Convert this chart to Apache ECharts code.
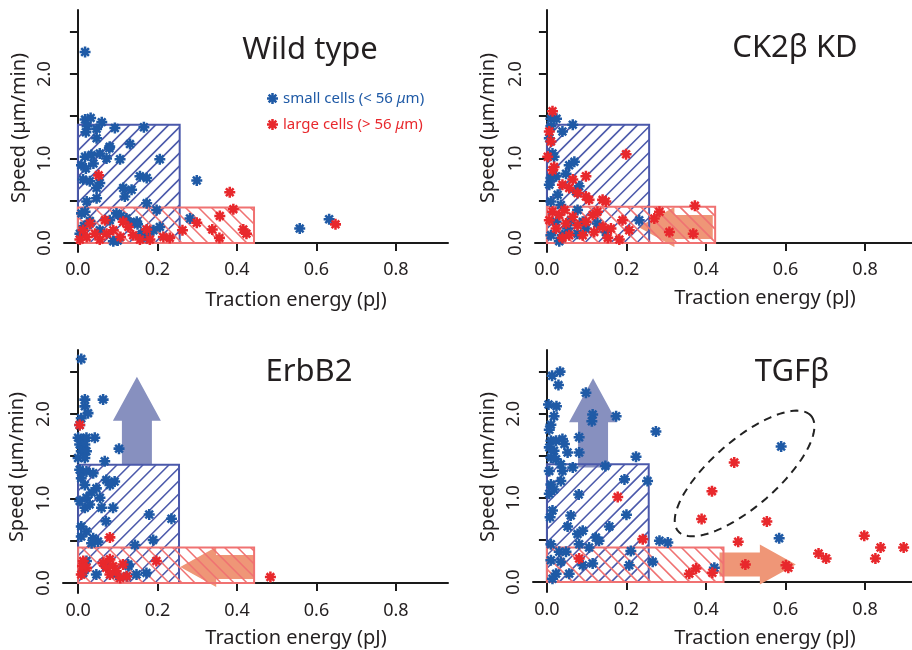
<!DOCTYPE html>
<html>
<head>
    <meta charset="utf-8" />
    <title>Speed vs traction energy</title>
    <style type="text/css">
        body, html {width: 100%; height: 100%; margin: 0; background: #fff;}
        #chart {width: 912px; height: 650px;}
    </style>
    <script src="https://cdn.jsdelivr.net/npm/echarts@6/dist/echarts.min.js"></script>
</head>
<body>
<div id="chart"></div>
<script type="text/javascript">
    var smallName = 'small cells (< 56 μm)';
    var largeName = 'large cells (> 56 μm)';
    var panelTitles = ['Wild type', 'CK2β KD', 'ErbB2', 'TGFβ'];
    var xTicks = [0, 0.2, 0.4, 0.6, 0.8];
    var yTicks = [0, 0.5, 1, 1.5, 2, 2.5];
    var yLabels = [0, 1, 2];

    // [traction energy (pJ), speed (um/min)]
    var wtSmall = [[0.018,2.26],[0.018,1.46],[0.032,1.48],[0.023,1.38],[0.020,1.31],[0.047,1.35],[0.060,1.43],[0.093,1.36],
        [0.166,1.37],[0.047,1.24],[0.131,1.17],[0.080,1.14],[0.018,1.02],[0.034,1.04],[0.055,1.06],[0.009,0.92],[0.039,0.94],
        [0.072,1.00],[0.106,0.99],[0.206,0.99],[0.013,0.75],[0.030,0.73],[0.055,0.71],[0.047,0.65],[0.156,0.79],[0.173,0.77],
        [0.114,0.65],[0.135,0.63],[0.118,0.55],[0.047,0.53],[0.022,0.49],[0.173,0.47],[0.299,0.74],[0.009,0.35],[0.018,0.37],
        [0.097,0.35],[0.198,0.39],[0.148,0.25],[0.206,0.19],[0.282,0.29],[0.005,0.11],[0.055,0.15],[0.089,0.02],[0.164,0.11],
        [0.190,0.15],[0.558,0.17],[0.632,0.28],[0.080,0.27],[0.122,0.29],[0.173,0.06],[0.108,0.32],[0.150,0.22],[0.130,0.24],
        [0.180,0.13],[0.160,0.10],[0.100,0.03],[0.015,0.20],[0.030,0.26],[0.020,0.88],[0.079,1.12]];
    var wtLarge = [[0.052,0.80],[0.013,0.15],[0.030,0.23],[0.043,0.11],[0.068,0.27],[0.072,0.11],[0.114,0.25],[0.107,0.07],
        [0.139,0.09],[0.173,0.16],[0.156,0.04],[0.181,0.04],[0.215,0.07],[0.231,0.06],[0.263,0.15],[0.299,0.24],[0.338,0.16],
        [0.357,0.32],[0.356,0.06],[0.391,0.40],[0.382,0.60],[0.416,0.16],[0.424,0.11],[0.648,0.22],[0.022,0.07],[0.089,0.15],
        [0.127,0.19],[0.005,0.04],[0.055,0.04]];

    var ckSmall = [[0.010,1.47],[0.024,1.47],[0.065,1.40],[0.039,1.32],[0.010,1.38],[0.006,1.24],[0.014,1.06],[0.018,1.02],
        [0.056,0.92],[0.069,0.96],[0.023,0.79],[0.010,0.77],[0.006,0.69],[0.048,0.82],[0.081,0.67],[0.073,0.61],[0.027,0.57],
        [0.010,0.49],[0.035,0.45],[0.077,0.39],[0.060,0.27],[0.090,0.25],[0.023,0.25],[0.052,0.17],[0.098,0.17],[0.232,0.27],
        [0.010,0.09],[0.039,0.09],[0.077,0.11],[0.031,0.02],[0.148,0.13],[0.127,0.23]];
    var ckLarge = [[0.014,1.56],[0.006,1.32],[0.010,1.20],[0.002,1.02],[0.018,0.90],[0.014,0.86],[0.199,1.05],[0.065,0.75],
        [0.098,0.79],[0.039,0.69],[0.056,0.65],[0.077,0.59],[0.098,0.55],[0.106,0.51],[0.140,0.51],[0.148,0.49],[0.014,0.37],
        [0.031,0.33],[0.044,0.39],[0.048,0.23],[0.023,0.17],[0.065,0.31],[0.077,0.21],[0.098,0.25],[0.115,0.33],[0.127,0.37],
        [0.119,0.13],[0.140,0.19],[0.161,0.17],[0.190,0.27],[0.207,0.15],[0.153,0.06],[0.182,0.04],[0.056,0.09],[0.039,0.06],
        [0.270,0.29],[0.283,0.37],[0.308,0.13],[0.006,0.27],[0.090,0.09],[0.372,0.44],[0.368,0.11]];

    var erbSmall = [[0.008,2.65],[0.017,2.17],[0.063,2.17],[0.017,2.09],[0.025,2.01],[0.008,1.95],[0.004,1.87],[0.000,1.72],
        [0.013,1.70],[0.021,1.72],[0.042,1.72],[0.004,1.64],[0.017,1.64],[0.008,1.56],[0.021,1.56],[0.000,1.48],[0.017,1.48],
        [0.103,1.59],[0.067,1.44],[0.004,1.34],[0.021,1.32],[0.038,1.30],[0.008,1.24],[0.017,1.16],[0.071,1.22],[0.092,1.20],
        [0.080,1.16],[0.046,1.12],[0.034,1.07],[0.055,1.01],[0.004,0.97],[0.021,1.01],[0.017,0.89],[0.029,0.93],[0.059,0.89],
        [0.088,0.89],[0.070,0.73],[0.179,0.81],[0.235,0.76],[0.008,0.67],[0.021,0.61],[0.008,0.55],[0.038,0.53],[0.050,0.49],
        [0.034,0.47],[0.143,0.45],[0.189,0.51],[0.126,0.22],[0.172,0.12],[0.147,0.10],[0.096,0.10],[0.021,0.26],[0.046,0.10],
        [0.013,0.12],[0.071,0.20],[0.127,0.20],[0.123,0.08]];
    var erbLarge = [[0.004,1.87],[0.080,0.54],[0.013,0.26],[0.021,0.18],[0.008,0.10],[0.063,0.24],[0.080,0.28],[0.071,0.18],
        [0.088,0.20],[0.096,0.14],[0.113,0.22],[0.080,0.10],[0.122,0.08],[0.197,0.26],[0.011,0.20],[0.484,0.07],[0.106,0.06]];

    var tgfSmall = [[0.013,2.45],[0.033,2.50],[0.029,2.34],[0.098,2.25],[0.004,2.11],[0.024,2.09],[0.018,1.97],[0.010,1.87],
        [0.006,1.81],[0.115,1.99],[0.113,1.91],[0.174,1.97],[0.081,1.72],[0.274,1.79],[0.010,1.68],[0.023,1.68],[0.006,1.60],
        [0.018,1.56],[0.039,1.70],[0.044,1.64],[0.052,1.54],[0.081,1.54],[0.010,1.48],[0.023,1.46],[0.035,1.40],[0.224,1.49],
        [0.147,1.38],[0.006,1.32],[0.039,1.32],[0.065,1.36],[0.010,1.16],[0.035,1.20],[0.195,1.22],[0.253,1.20],[0.006,1.05],
        [0.018,1.10],[0.080,1.04],[0.014,0.85],[0.008,0.77],[0.060,0.79],[0.200,0.80],[0.052,0.66],[0.077,0.57],[0.090,0.61],
        [0.157,0.66],[0.123,0.53],[0.131,0.49],[0.283,0.49],[0.304,0.47],[0.010,0.45],[0.031,0.36],[0.048,0.36],[0.081,0.45],
        [0.106,0.41],[0.010,0.26],[0.035,0.24],[0.090,0.20],[0.115,0.22],[0.207,0.20],[0.266,0.24],[0.023,0.10],[0.056,0.10],
        [0.014,0.04],[0.211,0.37],[0.421,0.17],[0.589,1.61],[0.584,0.52]];
    var tgfLarge = [[0.178,1.01],[0.241,0.51],[0.081,0.28],[0.358,0.10],[0.375,0.16],[0.416,0.11],[0.499,0.21],[0.481,0.48],
        [0.553,0.72],[0.471,1.42],[0.415,1.08],[0.389,0.75],[0.601,0.20],[0.607,0.17],[0.683,0.34],[0.702,0.28],[0.798,0.55],
        [0.826,0.28],[0.839,0.41],[0.897,0.41]];

    // hatched regions: [small x, small y, large x, large y]
    var regions = [[0.256, 1.40, 0.443, 0.42], [0.257, 1.40, 0.423, 0.43], [0.254, 1.40, 0.443, 0.42], [0.256, 1.40, 0.444, 0.41]];
    // arrows: [tail x, tail y, tip x, tip y]
    var arrows = [[], [[0.417, 0.19, 0.23, 0.19]],
        [[0.148, 1.40, 0.148, 2.44], [0.444, 0.19, 0.257, 0.19]],
        [[0.116, 1.36, 0.116, 2.42], [0.434, 0.21, 0.626, 0.21]]];
    var ellipseCenter = [0.497, 1.29];

    var smallColor = '#1f5aa6', largeColor = '#e8282c';
    var font = '"Noto Sans", "Liberation Sans", sans-serif';
    var star = 'path://M7.7 0H12.3V20H7.7Z M0 7.7H20V12.3H0Z M4.63 1.37L18.63 15.37L15.37 18.63L1.37 4.63Z M15.37 1.37L18.63 4.63L4.63 18.63L1.37 15.37Z';

    var grids = [
        {left: 64, top: 10, width: 384, height: 242},
        {left: 535, top: 10, width: 377, height: 242},
        {left: 63, top: 350, width: 385, height: 243},
        {left: 533, top: 350, width: 379, height: 242}
    ];
    var xRange = [[-0.035, 0.931], [-0.030, 0.918], [-0.038, 0.931], [-0.035, 0.918]];
    var yRange = [[-0.107, 2.757], [-0.107, 2.757], [-0.118, 2.757], [-0.118, 2.757]];
    var smallSets = [wtSmall, ckSmall, erbSmall, tgfSmall];
    var largeSets = [wtLarge, ckLarge, erbLarge, tgfLarge];

    function hatch(L, T, R, B, dir, color) {
        var els = [], step = 13, c, xa, xb;
        if (dir > 0) {
            for (c = L + T + step; c < R + B; c += step) {
                xa = Math.max(L, c - B); xb = Math.min(R, c - T);
                els.push({type: 'line', shape: {x1: xa, y1: c - xa, x2: xb, y2: c - xb}, style: {stroke: color, lineWidth: 1.6}});
            }
        } else {
            for (c = L - B + step; c < R - T; c += step) {
                xa = Math.max(L, c + T); xb = Math.min(R, c + B);
                els.push({type: 'line', shape: {x1: xa, y1: xa - c, x2: xb, y2: xb - c}, style: {stroke: color, lineWidth: 1.6}});
            }
        }
        els.push({type: 'rect', shape: {x: L, y: T, width: R - L, height: B - T}, style: {fill: 'none', stroke: color, lineWidth: 2}});
        return els;
    }

    function arrowShape(p0, p1) {
        var dx = p1[0] - p0[0], dy = p1[1] - p0[1];
        var len = Math.sqrt(dx * dx + dy * dy);
        var ux = dx / len, uy = dy / len, nx = -uy, ny = ux;
        var vertical = Math.abs(dy) > Math.abs(dx);
        var sw = vertical ? 15 : 12, hw = vertical ? 24 : 20, hl = vertical ? 44 : 36;
        var bx = p1[0] - ux * hl, by = p1[1] - uy * hl;
        return {
            type: 'polygon',
            shape: {points: [
                [p0[0] + nx * sw, p0[1] + ny * sw], [bx + nx * sw, by + ny * sw], [bx + nx * hw, by + ny * hw], p1,
                [bx - nx * hw, by - ny * hw], [bx - nx * sw, by - ny * sw], [p0[0] - nx * sw, p0[1] - ny * sw]
            ]},
            style: {fill: vertical ? '#8790bf' : '#ef9677'}
        };
    }

    var series = [], xAxes = [], yAxes = [], graphics = [];
    for (var i = 0; i < 4; i++) {
        xAxes.push({
            type: 'value', gridIndex: i, min: xRange[i][0], max: xRange[i][1],
            axisLine: {show: true, lineStyle: {color: '#1a1a1a', width: 2}},
            axisTick: {show: true, customValues: xTicks, length: 8, lineStyle: {color: '#1a1a1a', width: 2}},
            axisLabel: {customValues: xTicks, margin: 9, fontSize: 18, fontFamily: font, color: '#231f20',
                formatter: function (v) { return v.toFixed(1); }},
            splitLine: {show: false}
        });
        yAxes.push({
            type: 'value', gridIndex: i, min: yRange[i][0], max: yRange[i][1],
            axisLine: {show: true, lineStyle: {color: '#1a1a1a', width: 2}},
            axisTick: {show: true, customValues: yTicks, length: 8, lineStyle: {color: '#1a1a1a', width: 2}},
            axisLabel: {customValues: yLabels, rotate: 90, margin: 10, fontSize: 18, fontFamily: font, color: '#231f20',
                formatter: function (v) { return v.toFixed(1); }},
            splitLine: {show: false}
        });

        series.push({
            type: 'custom', xAxisIndex: i, yAxisIndex: i, z: 1, silent: true,
            data: arrows[i],
            renderItem: function (params, api) {
                return arrowShape(api.coord([api.value(0), api.value(1)]), api.coord([api.value(2), api.value(3)]));
            }
        });
        series.push({
            type: 'custom', xAxisIndex: i, yAxisIndex: i, z: 2, silent: true,
            data: [regions[i]],
            renderItem: function (params, api) {
                var o = api.coord([0, 0]);
                var s = api.coord([api.value(0), api.value(1)]);
                var l = api.coord([api.value(2), api.value(3)]);
                return {type: 'group', children: [].concat(
                    hatch(o[0], s[1], s[0], o[1], 1, '#4b59ab'),
                    hatch(o[0], l[1], l[0], o[1], -1, '#f07272'))};
            }
        });
        series.push({
            name: smallName, type: 'scatter', xAxisIndex: i, yAxisIndex: i, z: 3,
            symbol: star, symbolSize: 11, itemStyle: {color: smallColor, opacity: 1},
            data: smallSets[i]
        });
        series.push({
            name: largeName, type: 'scatter', xAxisIndex: i, yAxisIndex: i, z: 4,
            symbol: star, symbolSize: 11, itemStyle: {color: largeColor, opacity: 1},
            data: largeSets[i]
        });
    }

    // dashed ellipse around the TGFb cluster
    series.push({
        type: 'custom', xAxisIndex: 3, yAxisIndex: 3, z: 5, silent: true,
        data: [ellipseCenter],
        renderItem: function (params, api) {
            var c = api.coord([api.value(0), api.value(1)]);
            var a = 88, b = 33, th = 41 * Math.PI / 180, pts = [];
            for (var k = 0; k < 120; k++) {
                var t = 2 * Math.PI * k / 120;
                pts.push([c[0] + a * Math.cos(t) * Math.cos(th) - b * Math.sin(t) * Math.sin(th),
                    c[1] - (a * Math.cos(t) * Math.sin(th) + b * Math.sin(t) * Math.cos(th))]);
            }
            return {type: 'polygon', shape: {points: pts},
                style: {fill: 'none', stroke: '#222', lineWidth: 2, lineDash: [8, 6]}};
        }
    });

    var titlePos = [[310, 50], [795, 48], [309, 372], [792, 372]];
    var xNamePos = [[296, 300], [765, 298], [296, 638], [765, 638]];
    var yNamePos = [[19, 128], [488, 128], [17, 467], [488, 467]];
    for (var j = 0; j < 4; j++) {
        graphics.push({type: 'text', x: titlePos[j][0], y: titlePos[j][1],
            style: {text: panelTitles[j], font: '31px ' + font, fill: '#231f20', textAlign: 'center', textVerticalAlign: 'middle'}});
        graphics.push({type: 'text', x: xNamePos[j][0], y: xNamePos[j][1],
            style: {text: 'Traction energy (pJ)', font: '20px ' + font, fill: '#231f20', textAlign: 'center', textVerticalAlign: 'middle'}});
        graphics.push({type: 'text', x: yNamePos[j][0], y: yNamePos[j][1], rotation: Math.PI / 2,
            style: {text: 'Speed (μm/min)', font: '20px ' + font, fill: '#231f20', textAlign: 'center', textVerticalAlign: 'middle'}});
    }

    var myChart = echarts.init(document.getElementById('chart'));
    var option = {
        backgroundColor: '#fff',
        animation: false,
        grid: grids,
        xAxis: xAxes,
        yAxis: yAxes,
        legend: {
            left: 262, top: 86, orient: 'vertical', itemWidth: 11, itemHeight: 11, itemGap: 11,
            icon: star, selectedMode: false,
            data: [smallName, largeName],
            formatter: function (name) {
                return name === smallName ? '{b|small cells (< 56 }{bi|μ}{b|m)}' : '{r|large cells (> 56 }{ri|μ}{r|m)}';
            },
            textStyle: {
                fontFamily: font, fontSize: 15,
                rich: {
                    b: {color: smallColor, fontSize: 15, fontFamily: font, lineHeight: 17},
                    bi: {color: smallColor, fontSize: 15, fontFamily: font, fontStyle: 'italic', lineHeight: 17},
                    r: {color: largeColor, fontSize: 15, fontFamily: font, lineHeight: 17},
                    ri: {color: largeColor, fontSize: 15, fontFamily: font, fontStyle: 'italic', lineHeight: 17}
                }
            }
        },
        graphic: graphics,
        series: series
    };
    myChart.setOption(option, true);
</script>
</body>
</html>
